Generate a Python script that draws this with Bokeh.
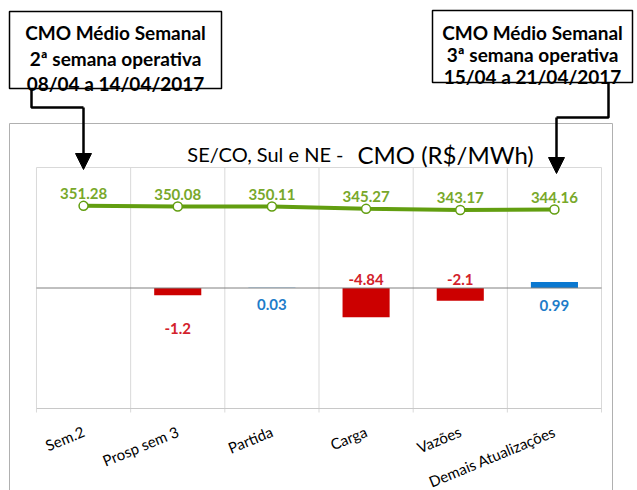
import math
from bokeh.plotting import figure
from bokeh.models import ColumnDataSource, FactorRange, Range1d, Arrow, NormalHead
from bokeh.core.properties import value
from bokeh.embed import file_html
from bokeh.resources import INLINE

# ---------------- data ----------------
categories = ["Sem.2", "Prosp sem 3", "Partida", "Carga", "Vazões", "Demais Atualizações"]
cmo_values = [351.28, 350.08, 350.11, 345.27, 343.17, 344.16]
delta_categories = ["Prosp sem 3", "Partida", "Carga", "Vazões", "Demais Atualizações"]
delta_values = [-1.2, 0.03, -4.84, -2.1, 0.99]
cmo_labels = ["351.28", "350.08", "350.11", "345.27", "343.17", "344.16"]
delta_labels = ["-1.2", "0.03", "-4.84", "-2.1", "0.99"]

title_left = "SE/CO, Sul e NE -"
title_right = "CMO (R$/MWh)"
callout_left = ["CMO Médio Semanal", "2ª semana operativa", "08/04 a 14/04/2017"]
callout_right = ["CMO Médio Semanal", "3ª semana operativa", "15/04 a 21/04/2017"]

# ---------------- styles ----------------
FONT = "Lato"
GREEN_LINE = "#629E10"
GREEN_TEXT = "#78A82A"
RED_BAR = "#CC0000"
BLUE_BAR = "#0B78D0"
RED_TEXT = "#D3212B"
BLUE_TEXT = "#1E7CC9"
GRID = "#D9D9D9"
delta_label_offsets = [40, 16, -9, -9, 17]   # pixel offsets of bar labels from the zero line

W, H = 637, 490
PAD = 0.382
UNIT = W / (len(categories) + 2 * PAD)       # pixels per category


def px(x):
    """Page-pixel x position -> categorical coordinate (offset from first factor)."""
    s = x / UNIT - PAD
    return (categories[0], s - 0.5)


def pxs(xs):
    return [px(x) for x in xs]


p = figure(width=W, height=H,
           x_range=FactorRange(factors=categories, range_padding=PAD, range_padding_units="absolute"),
           y_range=Range1d(-33.61, 47.72),
           y_axis_location=None,
           output_backend="svg", toolbar_location=None,
           min_border_left=0, min_border_right=0, min_border_top=0, min_border_bottom=0)
p.extra_y_ranges = {"cmo": Range1d(-218, 762), "py": Range1d(490, 0)}
p.outline_line_color = None
p.background_fill_color = "white"
p.border_fill_color = "white"
p.grid.visible = False

ax = p.xaxis[0]
ax.fixed_location = -20
ax.axis_line_color = None
ax.major_tick_line_color = None
ax.minor_tick_line_color = None
ax.major_tick_out = 0
ax.major_tick_in = 0
ax.major_label_standoff = 22
ax.major_label_orientation = math.pi / 8
ax.major_label_text_font = FONT
ax.major_label_text_font_size = "15px"
ax.major_label_text_color = "#000000"

# ---------------- plot area frame & grid ----------------
edges = [(c, -0.5) for c in categories] + [(categories[-1], 0.5)]
grid_src = ColumnDataSource(dict(x=edges))
p.segment(x0="x", x1="x", y0=20, y1=-20, source=grid_src, line_color=GRID, line_width=1)
p.segment(x0="x", x1="x", y0=408, y1=412, source=grid_src, line_color=GRID, line_width=1,
          y_range_name="py")
span_src = ColumnDataSource(dict(x0=[(categories[0], -0.5)], x1=[(categories[-1], 0.5)]))
p.segment(x0="x0", x1="x1", y0=20, y1=20, source=span_src, line_color=GRID, line_width=1)
p.segment(x0="x0", x1="x1", y0=-20, y1=-20, source=span_src, line_color="#C8C8C8", line_width=1)

# ---------------- bars ----------------
bar_colors = [RED_BAR if v < 0 else BLUE_BAR for v in delta_values]
lbl_colors = [RED_TEXT if v < 0 else BLUE_TEXT for v in delta_values]
bar_src = ColumnDataSource(dict(x=delta_categories, top=delta_values, color=bar_colors,
                                lcolor=lbl_colors, text=delta_labels, zero=[0] * len(delta_values),
                                off=delta_label_offsets))
p.vbar(x="x", top="top", bottom=0, width=0.5, fill_color="color", line_color=None, source=bar_src)
p.segment(x0="x0", x1="x1", y0=0, y1=0, source=span_src, line_color="#808080", line_width=1)
p.text(x="x", y="zero", text="text", y_offset="off", source=bar_src, text_color="lcolor",
       text_align="center", text_baseline="middle", text_font=value(FONT),
       text_font_style="bold", text_font_size="15px")

# ---------------- CMO line ----------------
line_src = ColumnDataSource(dict(x=categories, y=cmo_values, text=cmo_labels))
p.line(x="x", y="y", source=line_src, y_range_name="cmo", line_color=GREEN_LINE, line_width=4)
p.scatter(x="x", y="y", source=line_src, y_range_name="cmo", size=9, fill_color="white",
          line_color=GREEN_LINE, line_width=1.5)
p.text(x="x", y="y", text="text", source=line_src, y_range_name="cmo", y_offset=-12,
       text_align="center", text_baseline="alphabetic", text_color=GREEN_TEXT,
       text_font=value(FONT), text_font_style="bold", text_font_size="15px")

# ---------------- chart outer border & title ----------------
border_src = ColumnDataSource(dict(xs=[pxs([9, 9]), pxs([612, 612]), pxs([9, 612])],
                                   ys=[[123, 495], [123, 495], [123, 123]]))
p.multi_line(xs="xs", ys="ys", source=border_src, y_range_name="py",
             line_color="#B0B0B0", line_width=1)
title_src = ColumnDataSource(dict(x=[px(343)], y=[153], t=[title_left]))
p.text(x="x", y="y", text="t", source=title_src, y_range_name="py",
       text_align="right", text_baseline="alphabetic", text_font=value(FONT),
       text_font_size="20px", text_color="#000000")
title2_src = ColumnDataSource(dict(x=[px(357)], y=[154], t=[title_right]))
p.text(x="x", y="y", text="t", source=title2_src, y_range_name="py",
       text_align="left", text_baseline="alphabetic", text_font=value(FONT),
       text_font_size="24px", text_color="#000000")

# ---------------- callouts ----------------
box_src = ColumnDataSource(dict(l=pxs([9, 432]), r=pxs([221, 632]), t=[11, 10], b=[88, 82]))
p.quad(left="l", right="r", top="t", bottom="b", source=box_src, y_range_name="py",
       fill_color="white", line_color="black", line_width=1.5)
cl_src = ColumnDataSource(dict(x=pxs([115] * 3), y=[32, 58, 83], t=callout_left))
p.text(x="x", y="y", text="t", source=cl_src, y_range_name="py",
       text_align="center", text_baseline="alphabetic", text_font=value(FONT),
       text_font_style="bold", text_font_size="19px", text_color="#000000")
cr_src = ColumnDataSource(dict(x=pxs([532] * 3), y=[32, 54, 76], t=callout_right))
p.text(x="x", y="y", text="t", source=cr_src, y_range_name="py",
       text_align="center", text_baseline="alphabetic", text_font=value(FONT),
       text_font_style="bold", text_font_size="19px", text_color="#000000")

conn_src = ColumnDataSource(dict(xs=[pxs([31, 31, 83]), pxs([608, 608, 556])],
                                 ys=[[88, 107, 107], [82, 117, 117]]))
p.multi_line(xs="xs", ys="ys", source=conn_src, y_range_name="py",
             line_color="black", line_width=2.5)
arrow_src = ColumnDataSource(dict(x0=pxs([83, 556]), y0=[107, 117], x1=pxs([83, 556]), y1=[169, 173]))
p.add_layout(Arrow(x_start="x0", y_start="y0", x_end="x1", y_end="y1", source=arrow_src,
                   y_range_name="py", line_color="black", line_width=2.5,
                   end=NormalHead(size=16, fill_color="black", line_color="black")))

open("out.html", "w").write(file_html(p, INLINE))
